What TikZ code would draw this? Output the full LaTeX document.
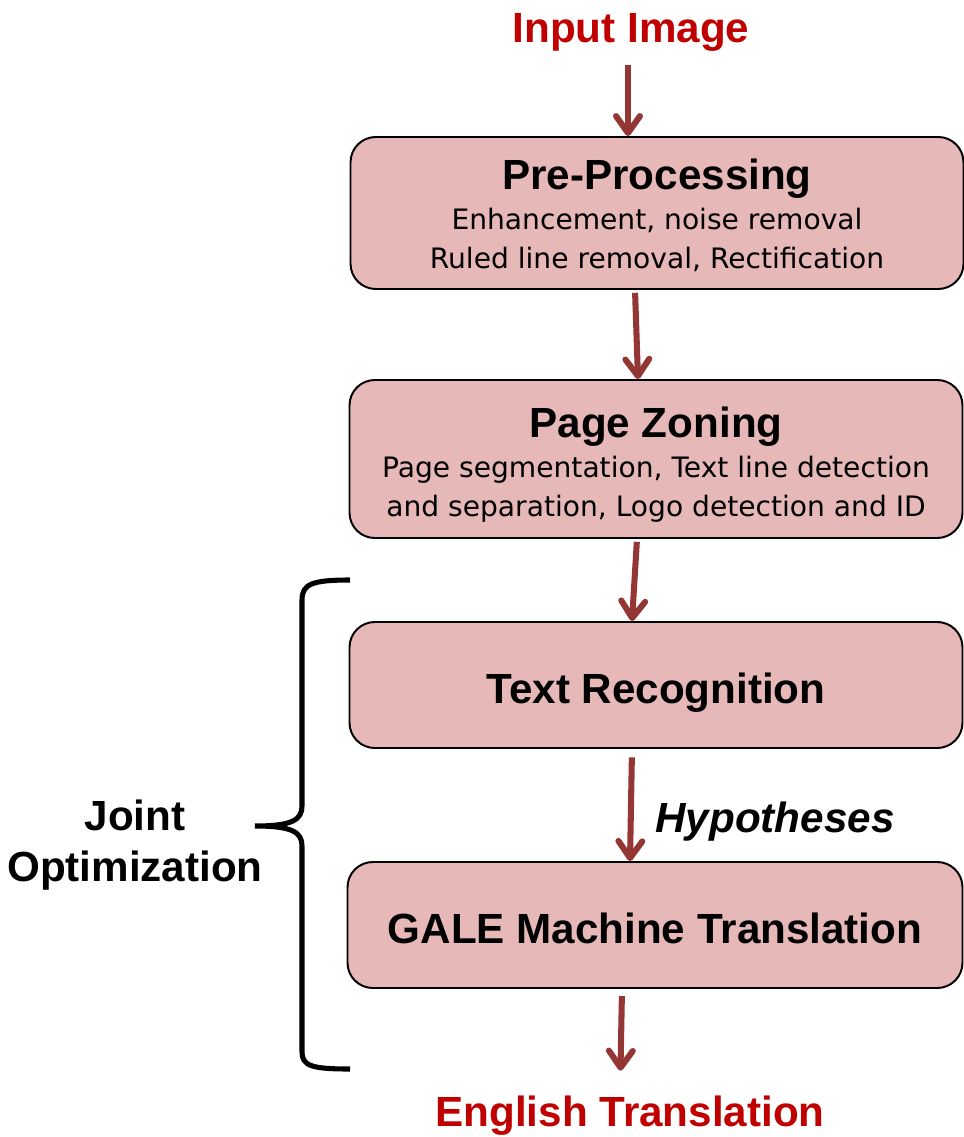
\documentclass[tikz,border=0pt]{standalone}
\usepackage{fontspec}
\setmainfont{Liberation Sans}
\newfontfamily\subfont{DejaVu Sans}
\usetikzlibrary{arrows.meta,calc}
\definecolor{boxpink}{HTML}{E6B8B7}
\definecolor{arrowred}{HTML}{943634}
\definecolor{labelred}{HTML}{C00000}
\newcommand{\bigbf}{\rmfamily\bfseries\fontsize{30}{36}\selectfont}
\newcommand{\smalltx}{\subfont\fontsize{20}{27.6}\selectfont}
\begin{document}
\begin{tikzpicture}[x=0.025cm,y=-0.025cm]
        \tikzstyle{stage}=[rectangle,rounded corners=18pt,draw=black,line width=1.4pt,fill=boxpink,minimum width=613*0.025cm,align=center,inner sep=0pt,font=\smalltx]
        \tikzstyle{single}=[font=\bigbf,text height=26pt,text depth=0pt,minimum height=126*0.025cm]
        \tikzstyle{flow}=[draw=arrowred,line width=4.3pt,-{Straight Barb[length=12pt,width=17pt,line cap=round,line join=round]}]
        \tikzstyle{io}=[text=labelred,font=\bigbf,inner sep=0pt]
        \useasboundingbox (0,0) rectangle (963,1137);

        \node[io] (in) at (631,32) {Input Image};
        \node[stage,minimum height=152*0.025cm] (pre) at (657,213) {\rule{0pt}{25pt}{\bigbf Pre-Processing}\\[0.8pt] Enhancement, noise removal\\ Ruled line removal, Rectification};
        \node[stage,minimum height=158*0.025cm] (zone) at (656,459) {\rule{0pt}{30pt}{\bigbf Page Zoning}\\[0.8pt] Page segmentation, Text line detection\\ and separation, Logo detection and ID};
        \node[stage,single] (rec) at (656,685) {Text Recognition};
        \node[stage,single,minimum width=615*0.025cm] (mt) at (655,925) {GALE Machine Translation};
        \node[io] (out) at (630,1116) {English Translation};

        \node[font=\bigbf\itshape,inner sep=0pt] (hyp) at (775,822) {Hypotheses};
        \node[font=\bigbf\fontsize{30}{36}\selectfont,align=center,inner sep=0pt] (joint) at (135,845) {Joint\\Optimization};

        \draw[flow,shorten <=10pt] ($(in.south)+(-3,0)$) -- ($(pre.north)+(-29,0)$);
        \draw[flow,shorten <=2pt] ($(pre.south)+(-22,0)$) -- ($(zone.north)+(-18,0)$);
        \draw[flow,shorten <=2pt] ($(zone.south)+(-19,0)$) -- ($(rec.north)+(-24,0)$);
        \draw[flow,shorten <=6pt] ($(rec.south)+(-24,0)$) -- ($(mt.north)+(-25,0)$);
        \draw[flow,shorten <=5pt,shorten >=18pt] ($(mt.south)+(-33,0)$) -- ($(out.north)+(-10,0)$);

        \draw[line width=3.6pt] (350,580) .. controls (312,580) and (302,584) .. (302,600) -- (302,806)
            .. controls (302,820) and (292,826) .. (255,826)
            .. controls (292,826) and (302,832) .. (302,846) -- (302,1052)
            .. controls (302,1066) and (312,1069) .. (350,1069);
\end{tikzpicture}
\end{document}
